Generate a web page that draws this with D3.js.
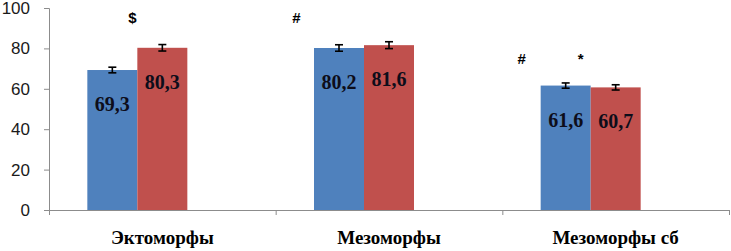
<!DOCTYPE html>
<html>
<head>
<meta charset="utf-8">
<script src="https://cdn.jsdelivr.net/npm/d3@7"></script>
<style>
  body { margin: 0; background: #fff; }
  svg { display: block; }
</style>
</head>
<body>
<div class="chart"></div>
<script>
// chart data
var categories = ["Эктоморфы", "Мезоморфы", "Мезоморфы сб"];
var seriesNames = ["s1", "s2", "s3"];          // third series is empty in the original
var series1 = [69.3, 80.2, 61.6];
var series2 = [80.3, 81.6, 60.7];
var errors1 = [1.4, 1.6, 1.3];
var errors2 = [1.6, 1.7, 1.3];
var valueLabels1 = ["69,3", "80,2", "61,6"];
var valueLabels2 = ["80,3", "81,6", "60,7"];
var yTicks = [0, 20, 40, 60, 80, 100];
// significance marks: category, slot (in bar widths, 0 = first bar), value level
var marks = [
  {cat: "Эктоморфы", slot: 0.4, level: 92.5, text: "$"},
  {cat: "Мезоморфы", slot: -0.85, level: 92.5, text: "#"},
  {cat: "Мезоморфы сб", slot: -0.88, level: 72.5, text: "#"},
  {cat: "Мезоморфы сб", slot: 0.3, level: 72.5, text: "*"}
];

var svgWidth = 731, svgHeight = 251;
var margin = {top: 8, right: 2, bottom: 41, left: 49};
var chartWidth = svgWidth - margin.left - margin.right;
var chartHeight = svgHeight - margin.top - margin.bottom;

var colors = {s1: "#4F81BD", s2: "#C0504D"};

var svg = d3.select(".chart")
  .append("svg")
  .attr("width", svgWidth)
  .attr("height", svgHeight)
  .append("g")
  .attr("transform", `translate(${margin.left},${margin.top})`);

var x0 = d3.scaleBand().domain(categories).range([0, chartWidth]);
var x1 = d3.scaleBand().domain(seriesNames)
  .range([x0.bandwidth() / 2 - 75, x0.bandwidth() / 2 + 75]);
var y = d3.scaleLinear().domain([0, 100]).range([chartHeight, 0]);
var slotX = d3.scaleLinear().domain([0, 1])
  .range([x1("s1") + x1.bandwidth() / 2, x1("s2") + x1.bandwidth() / 2]);

// y axis
var leftAxis = d3.axisLeft(y).tickValues(yTicks).tickSize(5).tickPadding(14);
var gy = svg.append("g").call(leftAxis);
gy.select(".domain").attr("stroke", "#8c8c8c").attr("d", `M-5,0.5H0.5V${chartHeight}`);
gy.selectAll(".tick line").attr("stroke", "#8c8c8c");
gy.selectAll(".tick text")
  .style("font-family", "'Liberation Sans', Arial, sans-serif")
  .style("font-size", "17px")
  .attr("fill", "#1a1a1a");

// bars
var rows = categories.map(function(c, i) {
  return [
    {cat: c, key: "s1", value: series1[i], err: errors1[i], label: valueLabels1[i]},
    {cat: c, key: "s2", value: series2[i], err: errors2[i], label: valueLabels2[i]}
  ];
});
var flat = d3.merge(rows);

svg.selectAll("rect.bar")
  .data(flat)
  .enter()
  .append("rect")
  .attr("class", "bar")
  .attr("x", function(d) { return x0(d.cat) + x1(d.key); })
  .attr("y", function(d) { return y(d.value); })
  .attr("width", x1.bandwidth())
  .attr("height", function(d) { return y(0) - y(d.value); })
  .attr("fill", function(d) { return colors[d.key]; });

// x axis
var bottomAxis = d3.axisBottom(x0).tickSize(0).tickFormat("");
var gx = svg.append("g").attr("transform", `translate(0,${chartHeight})`).call(bottomAxis);
gx.select(".domain").attr("stroke", "#8c8c8c").attr("d", `M0.5,0.5H${chartWidth}`);
svg.append("g")
  .selectAll("line")
  .data(categories.concat(["end"]))
  .enter()
  .append("line")
  .attr("x1", function(d, i) { return i * x0.step() + 0.5; })
  .attr("x2", function(d, i) { return i * x0.step() + 0.5; })
  .attr("y1", chartHeight)
  .attr("y2", chartHeight + 5)
  .attr("stroke", "#8c8c8c");

// error bars
var eb = svg.append("g").selectAll("g").data(flat).enter().append("g")
  .attr("transform", function(d) {
    return `translate(${x0(d.cat) + x1(d.key) + x1.bandwidth() / 2},0)`;
  })
  .attr("stroke", "#000")
  .attr("stroke-width", 1.6);
eb.append("line")
  .attr("y1", function(d) { return y(d.value + d.err); })
  .attr("y2", function(d) { return y(d.value - d.err); });
eb.append("line").attr("x1", -4).attr("x2", 4)
  .attr("y1", function(d) { return y(d.value + d.err); })
  .attr("y2", function(d) { return y(d.value + d.err); });
eb.append("line").attr("x1", -4).attr("x2", 4)
  .attr("y1", function(d) { return y(d.value - d.err); })
  .attr("y2", function(d) { return y(d.value - d.err); });

// value labels
svg.append("g").selectAll("text").data(flat).enter().append("text")
  .attr("x", function(d) { return x0(d.cat) + x1(d.key) + x1.bandwidth() / 2; })
  .attr("y", function(d) { return y(d.value) + 41; })
  .attr("text-anchor", "middle")
  .style("font-family", "'Liberation Serif', 'Times New Roman', serif")
  .style("font-weight", "bold")
  .style("font-size", "20px")
  .attr("fill", "#0d0d1a")
  .text(function(d) { return d.label; });

// category labels
svg.append("g").selectAll("text").data(categories).enter().append("text")
  .attr("x", function(d) { return x0(d) + x0.bandwidth() / 2; })
  .attr("y", chartHeight + 34)
  .attr("text-anchor", "middle")
  .style("font-family", "'Liberation Serif', 'Times New Roman', serif")
  .style("font-weight", "bold")
  .style("font-size", "19px")
  .attr("fill", "#000")
  .text(function(d) { return d; });

// significance marks
svg.append("g").selectAll("text").data(marks).enter().append("text")
  .attr("x", function(d) { return x0(d.cat) + slotX(d.slot); })
  .attr("y", function(d) { return y(d.level); })
  .attr("text-anchor", "middle")
  .style("font-family", "'Liberation Sans', Arial, sans-serif")
  .style("font-weight", "bold")
  .style("font-size", "15px")
  .attr("fill", "#000")
  .text(function(d) { return d.text; });
</script>
</body>
</html>
